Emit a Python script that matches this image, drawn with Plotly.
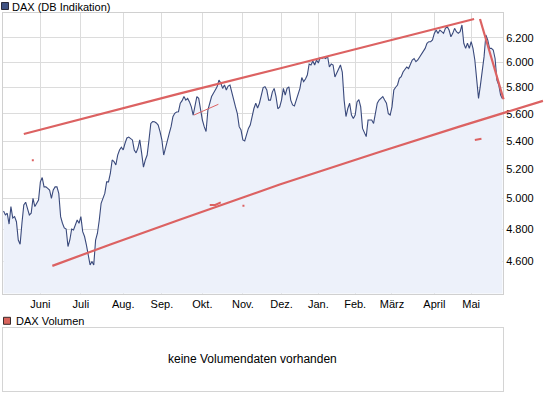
import plotly.graph_objects as go

# ---------------- data ----------------
dax = [
    4918, 4892, 4903, 4833, 4947, 4872, 4881, 4848, 4731, 4704,
    4840, 4958, 4976, 4925, 4892, 4903, 5002, 4947, 4969, 4991,
    5113, 5143, 5079, 5079, 5069, 5058, 5002, 5058, 5079, 5079,
    5035, 4881, 4838, 4808, 4801, 4690, 4731, 4801, 4795, 4827,
    4859, 4838, 4881, 4784, 4753, 4700, 4647, 4576, 4597, 4576,
    4731, 4774, 4859, 4969, 5002, 5035, 5113, 5113, 5171, 5265,
    5254, 5230, 5300, 5336, 5355, 5336, 5384, 5422, 5429, 5415,
    5408, 5336, 5315, 5350, 5408, 5315, 5215, 5265, 5300, 5408,
    5529, 5543, 5541, 5532, 5517, 5469, 5408, 5300, 5360, 5408,
    5456, 5505, 5579, 5604, 5614, 5616, 5680, 5700, 5731, 5704,
    5717, 5690, 5652, 5591, 5667, 5731, 5717, 5629, 5554, 5505,
    5469, 5629, 5680, 5731, 5757, 5781, 5806, 5859, 5835, 5794,
    5820, 5781, 5812, 5820, 5757, 5704, 5652, 5602, 5505, 5480,
    5408, 5401, 5456, 5492, 5517, 5591, 5640, 5680, 5644, 5680,
    5731, 5800, 5806, 5781, 5704, 5704, 5765, 5794, 5731, 5638,
    5652, 5704, 5794, 5743, 5794, 5806, 5704, 5667, 5660, 5704,
    5757, 5794, 5878, 5847, 5867, 5898, 5986, 5978, 6009, 5978,
    6018, 5994, 6038, 6030, 6038, 6030, 6048, 5962, 5986, 5978,
    5883, 5922, 5946, 5978, 5922, 5704, 5580, 5640, 5680, 5591,
    5566, 5591, 5690, 5707, 5652, 5492, 5456, 5432, 5554, 5554,
    5554, 5529, 5591, 5680, 5704, 5717, 5731, 5704, 5680, 5602,
    5591, 5652, 5781, 5803, 5820, 5872, 5885, 5922, 5946, 5962,
    5950, 5978, 6018, 6030, 6004, 6018, 6043, 6058, 6084, 6112,
    6154, 6167, 6167, 6181, 6236, 6264, 6236, 6264, 6250, 6236,
    6278, 6292, 6264, 6208, 6236, 6278, 6250, 6236, 6250, 6306,
    6154, 6112, 6154, 6112, 6167, 6112, 6018, 5840, 5717, 5815,
    5918, 6043, 6222, 6181, 6112, 6112, 6099, 6030, 5859, 5820,
    5743, 5715,
]
days = list(range(len(dax)))  # trading-day index

month_ticks = [20, 42, 65, 86, 108, 130, 151, 171, 191, 211, 234, 254]
month_labels = ["Juni", "Juli", "Aug.", "Sep.", "Okt.", "Nov.", "Dez.",
                "Jan.", "Feb.", "März", "April", "Mai"]
price_ticks = [4600, 4800, 5000, 5200, 5400, 5600, 5800, 6000, 6200]
price_labels = ["4.600", "4.800", "5.000", "5.200", "5.400",
                "5.600", "5.800", "6.000", "6.200"]

# user-drawn trend lines (trading-day index, DAX level)
upper_days = [11, 96, 150.5, 205, 255.6]
upper_vals = [5451, 5755, 5952, 6160, 6357]
lower_days = [26.5, 58, 96, 150, 205, 248, 293]
lower_vals = [4570, 4703, 4862, 5095, 5325, 5507, 5698]
steep_days = [258.8, 271.6]
steep_vals = [6357, 5710]
thin_days = [103.4, 116.7]
thin_vals = [5591, 5672]
stub_days = [112, 115, 118]
stub_vals = [4958, 4958, 4975]
stub2_days = [256, 259.6]
stub2_vals = [5408, 5416]
dot_days = [15.9, 130.3]
dot_vals = [5263, 4953]

# ---------------- styling ----------------
W, H = 545, 395
NAVY = "#3a4a7c"
FILL = "rgba(237,241,250,1)"
RED = "#dc6262"
GRID = "#dcdcdc"
FONT = "Liberation Sans"

x_lo, x_hi = -0.3, 271.3
px_per_day = 500 / (x_hi - x_lo)
y_range = [3.64389, 3.80656]

def px(v):
    return v / W

def py(v):
    return 1 - v / H

fig = go.Figure()

fig.add_trace(go.Scatter(
    x=days, y=dax, mode="lines",
    line=dict(color=NAVY, width=1.1),
    fill="tozeroy", fillcolor=FILL,
    xaxis="x", yaxis="y", hoverinfo="skip", showlegend=False,
))

red_kw = dict(xaxis="x2", yaxis="y2", hoverinfo="skip", showlegend=False)
fig.add_trace(go.Scatter(x=upper_days, y=upper_vals, mode="lines",
                         line=dict(color=RED, width=2.2), **red_kw))
fig.add_trace(go.Scatter(x=lower_days, y=lower_vals, mode="lines",
                         line=dict(color=RED, width=2.2), **red_kw))
fig.add_trace(go.Scatter(x=steep_days, y=steep_vals, mode="lines",
                         line=dict(color=RED, width=2.2), **red_kw))
fig.add_trace(go.Scatter(x=thin_days, y=thin_vals, mode="lines",
                         line=dict(color=RED, width=1), **red_kw))
fig.add_trace(go.Scatter(x=stub_days, y=stub_vals, mode="lines",
                         line=dict(color=RED, width=2), **red_kw))
fig.add_trace(go.Scatter(x=stub2_days, y=stub2_vals, mode="lines",
                         line=dict(color=RED, width=2), **red_kw))
fig.add_trace(go.Scatter(x=dot_days, y=dot_vals, mode="markers",
                         marker=dict(color=RED, size=2, symbol="square",
                                     line=dict(width=0)), **red_kw))

# empty volume panel (no data available)
fig.add_trace(go.Scatter(x=[None], y=[None], mode="lines", xaxis="x3",
                         yaxis="y3", hoverinfo="skip", showlegend=False))

x2_hi = x_lo + 542 / px_per_day

fig.update_layout(
    width=W, height=H,
    margin=dict(l=0, r=0, t=0, b=0),
    paper_bgcolor="white",
    plot_bgcolor="rgba(0,0,0,0)",
    font=dict(family=FONT, size=11, color="#000000"),
    showlegend=False,
    xaxis=dict(
        domain=[px(3), px(503)], range=[x_lo, x_hi],
        tickmode="array", tickvals=month_ticks, ticktext=month_labels,
        showgrid=True, gridcolor=GRID, gridwidth=1,
        showline=True, linecolor="#d0d0d0", linewidth=1, mirror=True,
        ticks="",
        tickfont=dict(family=FONT, size=11, color="#000"),
        zeroline=False, fixedrange=True, anchor="y",
    ),
    yaxis=dict(
        domain=[py(293.5), py(13.3)], type="log", range=y_range,
        side="right",
        tickmode="array", tickvals=price_ticks, ticktext=price_labels,
        showgrid=True, gridcolor=GRID, gridwidth=1,
        showline=True, linecolor="#d0d0d0", linewidth=1, mirror=True,
        ticks="",
        tickfont=dict(family=FONT, size=11, color="#000"),
        zeroline=False, fixedrange=True, anchor="x",
    ),
    xaxis2=dict(domain=[px(3), 1.0], range=[x_lo, x2_hi], visible=False,
                anchor="y2", fixedrange=True),
    yaxis2=dict(domain=[py(293.5), py(13.3)], type="log", range=y_range,
                visible=False, anchor="x2", fixedrange=True),
    xaxis3=dict(domain=[px(2.8), px(502.8)], range=[0, 1],
                showline=True, linecolor="#d4d4d4", mirror=True,
                showgrid=False, showticklabels=False, ticks="",
                zeroline=False, anchor="y3", fixedrange=True),
    yaxis3=dict(domain=[py(390.7), py(328.2)], range=[0, 1],
                showline=True, linecolor="#d4d4d4", mirror=True,
                showgrid=False, showticklabels=False, ticks="",
                zeroline=False, anchor="x3", fixedrange=True),
    annotations=[
        dict(text="DAX (DB Indikation)", xref="paper", yref="paper",
             x=px(10), y=py(6.8), xanchor="left", yanchor="middle",
             showarrow=False, font=dict(family=FONT, size=11, color="#000")),
        dict(text="DAX Volumen", xref="paper", yref="paper",
             x=px(14), y=py(320.8), xanchor="left", yanchor="middle",
             showarrow=False, font=dict(family=FONT, size=11, color="#000")),
        dict(text="keine Volumendaten vorhanden", xref="paper", yref="paper",
             x=px(252.8), y=py(358.6), xanchor="center", yanchor="middle",
             showarrow=False, font=dict(family=FONT, size=12, color="#000")),
    ],
    shapes=[
        dict(type="rect", xref="paper", yref="paper",
             x0=px(1.5), x1=px(8.5), y0=py(9.5), y1=py(2.5),
             fillcolor="#3f5283", line=dict(color="#2a2a3a", width=1)),
        dict(type="rect", xref="paper", yref="paper",
             x0=px(3.5), x1=px(10.5), y0=py(324.3), y1=py(317.3),
             fillcolor="#d9645c", line=dict(color="#3a2a2a", width=1)),
    ],
)

fig.write_html(
    "out.html",
    config={"displayModeBar": False},
    post_script="document.body.style.margin='0';document.body.style.overflow='hidden';",
)
